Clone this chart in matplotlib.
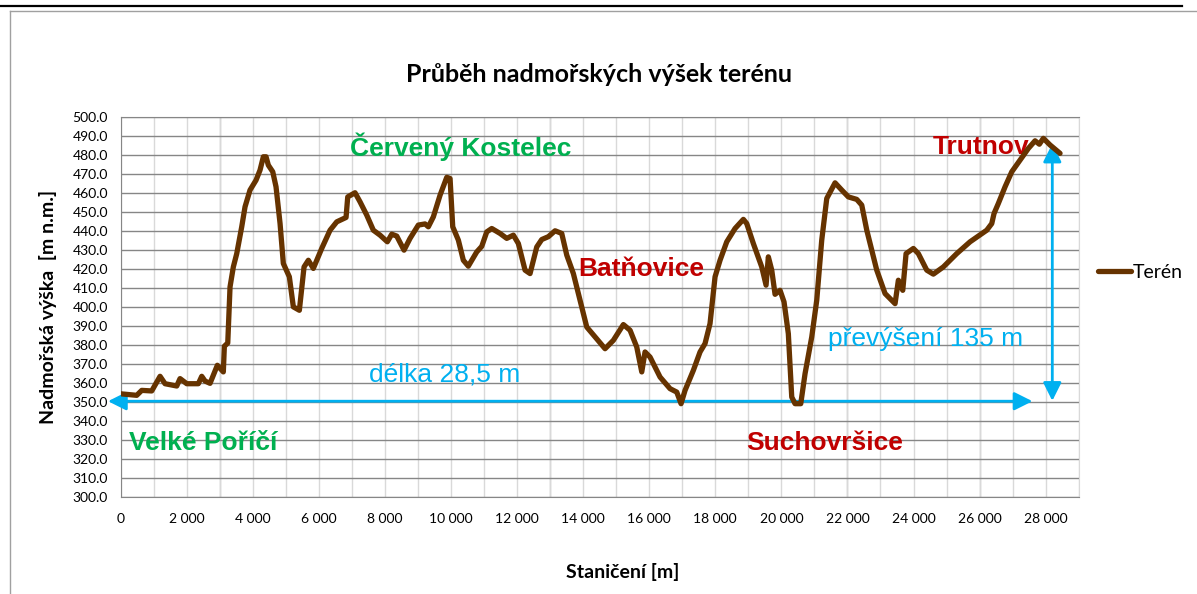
import numpy as np
import matplotlib.pyplot as plt
from matplotlib.lines import Line2D
from matplotlib.ticker import FuncFormatter

# staniceni [m] a nadmorska vyska [m n.m.]
staniceni = [0, 490, 642, 944, 1196, 1347, 1701, 1801, 2004, 2355, 2458, 2557, 2709,
             2930, 3111, 3142, 3245, 3314, 3414, 3517, 3668, 3768, 3919, 4101, 4222,
             4322, 4404, 4473, 4607, 4706, 4828, 4927, 5109, 5230, 5412, 5554, 5684,
             5835, 6089, 6341, 6544, 6825, 6876, 7097, 7249, 7452, 7651, 7854, 8075,
             8208, 8360, 8580, 8762, 9013, 9216, 9316, 9467, 9670, 9873, 9973, 10054,
             10224, 10375, 10526, 10781, 10932, 11083, 11235, 11486, 11689, 11889,
             12040, 12243, 12394, 12597, 12748, 12948, 13151, 13353, 13505, 13705,
             13908, 14110, 14361, 14664, 14915, 15218, 15421, 15623, 15775, 15874,
             16026, 16329, 16631, 16834, 16964, 17085, 17336, 17539, 17690, 17841,
             17993, 18144, 18347, 18598, 18850, 18952, 19152, 19406, 19537, 19606,
             19709, 19809, 19960, 20081, 20211, 20314, 20414, 20587, 20717, 20920,
             21071, 21222, 21374, 21625, 21828, 22028, 22282, 22433, 22585, 22887,
             23138, 23441, 23541, 23674, 23774, 23995, 24146, 24400, 24600, 24903,
             25308, 25711, 26216, 26368, 26437, 26568, 26770, 26973, 27224, 27475,
             27678, 27808, 27929, 28132, 28434]
vyska = [354.5, 353.7, 356.3, 356.0, 363.7, 359.8, 358.6, 362.5, 359.8, 359.8, 363.7,
         361.2, 360.0, 369.5, 366.0, 379.5, 381.2, 410.7, 421.2, 428.2, 442.3, 452.8,
         461.6, 466.8, 472.1, 479.1, 479.1, 474.7, 471.2, 463.3, 444.0, 423.0, 416.0,
         400.2, 398.4, 421.2, 424.7, 420.4, 430.9, 440.5, 444.9, 447.2, 458.0, 460.2,
         455.4, 448.4, 440.5, 437.9, 434.4, 438.4, 437.4, 430.0, 436.2, 443.2, 443.8,
         442.3, 447.5, 458.9, 468.3, 467.7, 442.3, 435.3, 424.7, 421.6, 429.1, 432.0,
         439.6, 441.4, 438.8, 436.2, 437.9, 433.5, 419.5, 417.7, 431.7, 435.6, 437.1,
         440.2, 438.8, 427.4, 417.7, 403.7, 389.6, 384.4, 378.2, 382.6, 390.9, 387.9,
         379.1, 366.0, 376.5, 373.8, 363.3, 357.2, 355.4, 349.3, 356.3, 366.8, 376.5,
         380.9, 391.4, 416.0, 424.7, 434.4, 441.4, 446.2, 444.0, 433.5, 421.2, 411.6,
         426.5, 419.5, 406.8, 408.9, 402.8, 386.1, 352.8, 349.3, 349.3, 365.1, 384.4,
         403.7, 435.3, 457.2, 465.4, 461.6, 458.0, 456.7, 453.7, 440.5, 419.5, 407.2,
         401.9, 414.2, 408.9, 428.2, 430.9, 428.2, 419.5, 417.4, 421.2, 428.2, 434.4,
         440.5, 444.0, 449.3, 454.6, 463.3, 471.2, 477.4, 483.5, 487.5, 485.7, 488.8,
         485.3, 480.9]

mista_zelena = [("Červený Kostelec", 10290, 484.5), ("Velké Poříčí", 2512, 328.5)]
mista_cervena = [("Batňovice", 15769, 420.0), ("Suchovršice", 21322, 328.5),
                 ("Trutnov", 26059, 484.5)]

calibri = ['Lato', 'DejaVu Sans']
arial = ['Liberation Sans', 'DejaVu Sans']
modra = '#00b0f0'

fig = plt.figure(figsize=(11.97, 5.94), dpi=100)
ax = fig.add_axes([0.1007, 0.1625, 0.8005, 0.6405])

ax.plot(staniceni, vyska, color='#663300', lw=3.8, solid_joinstyle='round',
        solid_capstyle='round', label='Terén', zorder=4)

ax.set_xlim(0, 29000)
ax.set_ylim(300, 500)
ax.set_yticks(np.arange(300, 501, 10))
ax.yaxis.set_major_formatter(FuncFormatter(lambda v, p: f'{v:.1f}'))
ax.set_xticks(range(0, 28001, 2000))
ax.set_xticks(range(0, 29001, 1000), minor=True)
ax.xaxis.set_major_formatter(FuncFormatter(lambda v, p: f'{int(v):,}'.replace(',', ' ')))
ax.tick_params(which='both', length=0)
ax.tick_params(axis='y', pad=9)
ax.tick_params(axis='x', pad=11)
for lab in ax.get_xticklabels() + ax.get_yticklabels():
    lab.set_family(calibri)
    lab.set_fontsize(10)

ax.grid(axis='x', which='both', color='#d9d9d9', lw=1, zorder=0)
ax.grid(axis='y', which='major', color='#868686', lw=1, zorder=1)
for xx in [3000, 13000, 22000, 26000]:
    ax.axvline(xx, color='#bdbdbd', lw=1, zorder=0)
ax.set_axisbelow(True)
for s in ['left', 'bottom', 'top']:
    ax.spines[s].set_color('#868686')
ax.spines['right'].set_color('#d9d9d9')

fig.text(599 / 1197, 1 - 75 / 594, 'Průběh nadmořských výšek terénu', family=calibri,
         fontsize=18, fontweight='bold', ha='center', va='center')
fig.text(623 / 1197, 1 - 572 / 594, 'Staničení [m]', family=calibri, fontsize=14,
         fontweight='bold', ha='center', va='center')
fig.text(48 / 1197, 1 - 307 / 594, 'Nadmořská výška  [m n.m.]', family=calibri,
         fontsize=14, fontweight='bold', ha='center', va='center', rotation=90)

# popisky obci (pod carou terenu)
for txt, xx, yy in mista_zelena:
    ax.text(xx, yy, txt, color='#00b050', family=arial, fontsize=19, fontweight='bold',
            ha='center', va='center', zorder=3)
for txt, xx, yy in mista_cervena:
    ax.text(xx, yy, txt, color='#c00000', family=arial, fontsize=19, fontweight='bold',
            ha='center', va='center', zorder=3)

ax.text(9821, 364.5, 'délka 28,5 m', color=modra, family=arial, fontsize=19,
        ha='center', va='center')
ax.text(24364, 383.2, 'převýšení 135 m', color=modra, family=arial, fontsize=19,
        ha='center', va='center')

sipka = dict(arrowstyle='<|-|>,head_length=1.1,head_width=0.55', mutation_scale=10,
             color=modra, lw=2, shrinkA=0, shrinkB=0)
ax.annotate('', xy=(-380, 350.6), xytext=(27600, 350.6), arrowprops=sipka,
            annotation_clip=False, zorder=3)
ax.annotate('', xy=(28200, 486.0), xytext=(28200, 350.8), arrowprops=sipka,
            annotation_clip=False, zorder=3)

leg = ax.legend(loc='center left', bbox_to_anchor=(1098 / 1197, 1 - 272 / 594),
                bbox_transform=fig.transFigure, frameon=False, handlelength=1.7,
                handletextpad=0.1, borderpad=0, borderaxespad=0,
                prop={'family': calibri, 'size': 14})

# ramecek obrazku
fig.add_artist(Line2D([0, 1182 / 1197], [1 - 5.5 / 594] * 2, transform=fig.transFigure,
                      color='black', lw=1.6))
fig.add_artist(Line2D([9.6 / 1197, 1], [1 - 10.8 / 594] * 2, transform=fig.transFigure,
                      color='#a0a0a0', lw=1))
fig.add_artist(Line2D([9.6 / 1197] * 2, [0, 1 - 10.8 / 594], transform=fig.transFigure,
                      color='#a0a0a0', lw=1))

fig.savefig('out.png', dpi=100)
